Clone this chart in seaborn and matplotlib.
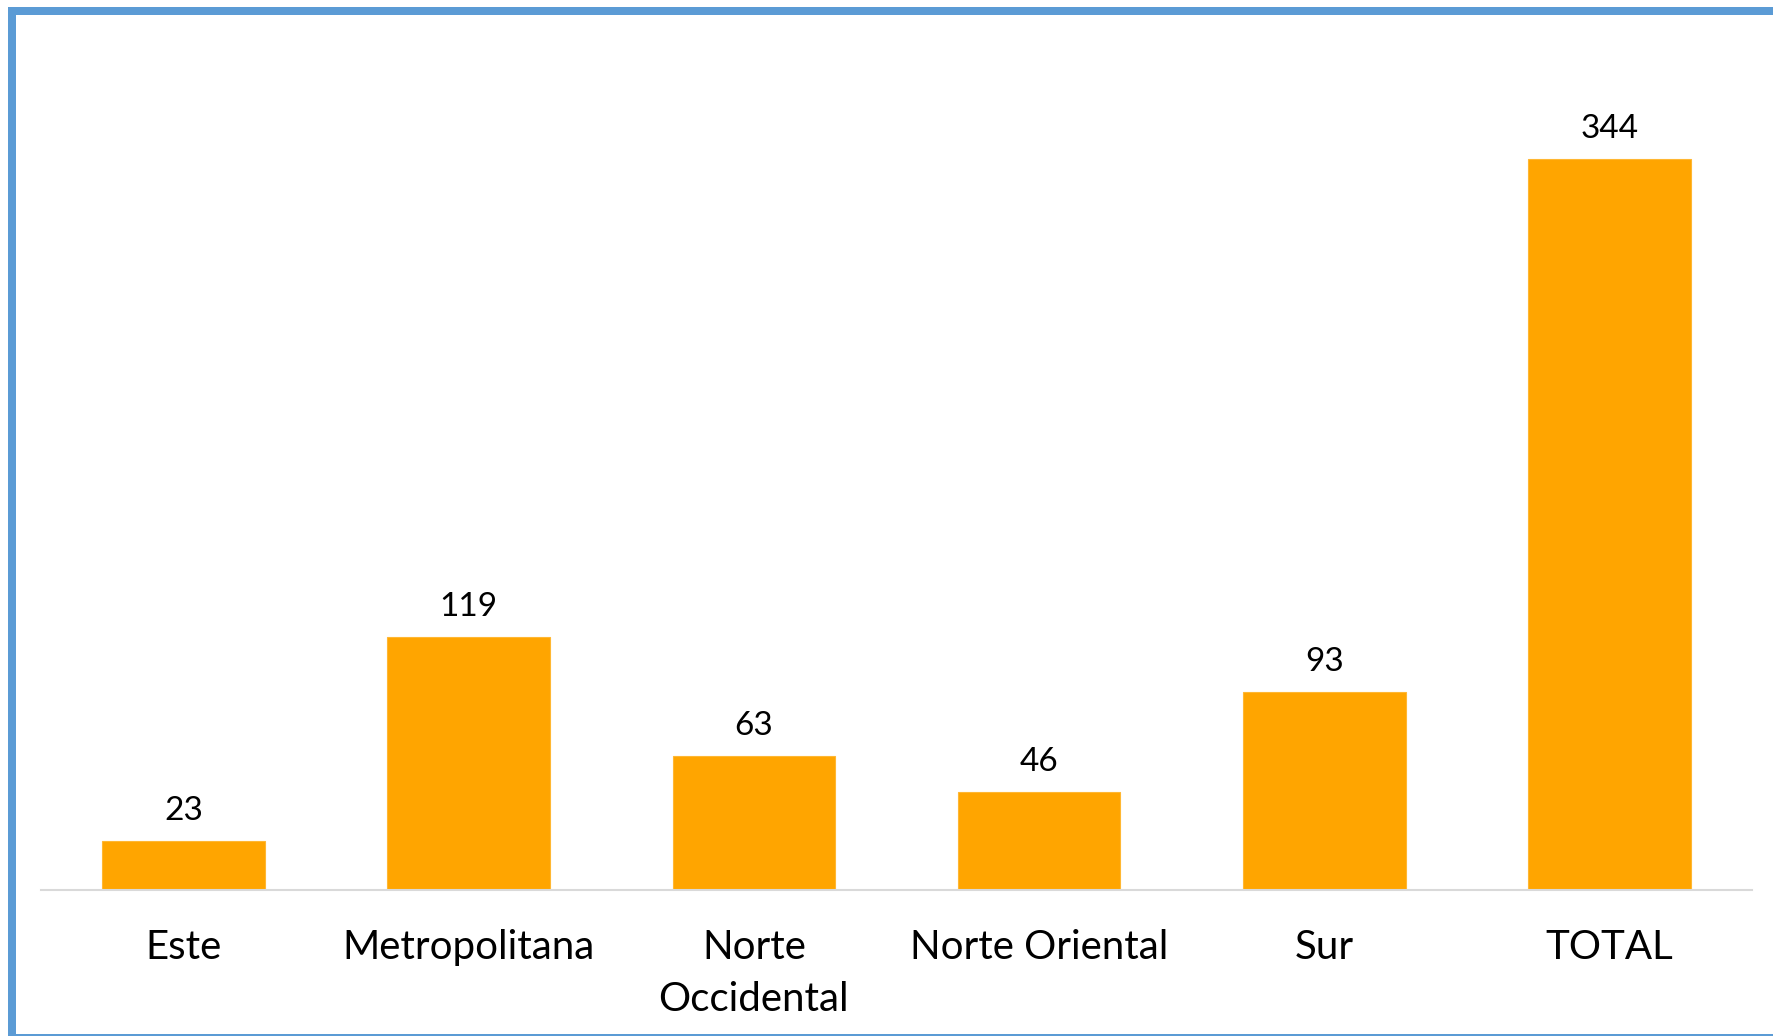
import matplotlib
matplotlib.use("Agg")
import matplotlib.pyplot as plt
import seaborn as sns
import pandas as pd
from matplotlib.patches import Rectangle

# data
regiones = ["Este", "Metropolitana", "Norte\nOccidental", "Norte Oriental", "Sur", "TOTAL"]
casos = [23, 119, 63, 46, 93, 344]

df = pd.DataFrame({"region": regiones, "casos": casos})

sns.set_theme(style="white")
plt.rcParams['font.family'] = ['Lato', 'DejaVu Sans']

W, H = 1774, 1036
fig = plt.figure(figsize=(W / 100, H / 100), dpi=100)
ax = fig.add_axes([41 / W, (H - 890) / H, 1711 / W, 850 / H])

sns.barplot(data=df, x="region", y="casos", color="#FFA500", saturation=1,
            width=0.57, ax=ax, edgecolor="#FFB733", linewidth=0.8)

ax.set_ylim(0, 400)
ax.set_xlim(-0.5, len(regiones) - 0.5)
ax.set_xlabel("")
ax.set_ylabel("")
ax.set_yticks([])
for s in ["top", "right", "left"]:
    ax.spines[s].set_visible(False)
ax.spines["bottom"].set_color("#D9D9D9")
ax.spines["bottom"].set_linewidth(1.5)
ax.tick_params(axis="x", length=0, pad=28, labelsize=29, colors="black")
for lbl in ax.get_xticklabels():
    lbl.set_linespacing(1.5)

for c in ax.containers:
    ax.bar_label(c, fmt="%d", padding=11, fontsize=24, color="black")

# blue frame (top, left and thin bottom)
blue = "#5B9BD5"
fig.add_artist(Rectangle((8 / W, 0), 8 / W, (H - 7) / H, transform=fig.transFigure,
                         color=blue, lw=0))
fig.add_artist(Rectangle((8 / W, (H - 15) / H), 1 - 8 / W, 8 / H, transform=fig.transFigure,
                         color=blue, lw=0))
fig.add_artist(Rectangle((8 / W, 0), 1 - 8 / W, 2 / H, transform=fig.transFigure,
                         color=blue, lw=0))

fig.savefig("out.png", dpi=100)
